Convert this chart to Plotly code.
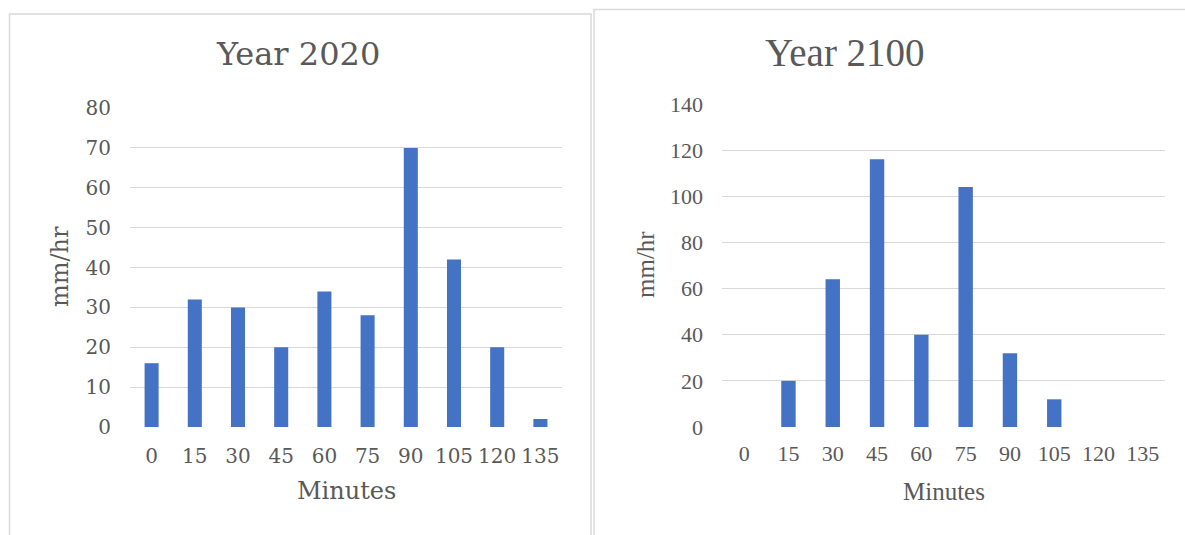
import plotly.graph_objects as go

W, H = 1185, 535

# Rainfall intensity per 15-minute step
minutes = ["0", "15", "30", "45", "60", "75", "90", "105", "120", "135"]
rain_2020 = [16, 32, 30, 20, 34, 28, 70, 42, 20, 2]
rain_2100 = [0, 20, 64, 116, 40, 104, 32, 12, 0, 0]
yticks_2020 = [0, 10, 20, 30, 40, 50, 60, 70, 80]
yticks_2100 = [0, 20, 40, 60, 80, 100, 120, 140]

BAR = "#4472C4"
GRID = "#D9D9D9"
TXT = "#595959"
LEFT_FONT = "DejaVu Serif"
RIGHT_FONT = "Liberation Serif"


def px(x):
    return x / W


def py(y):
    return 1 - y / H


fig = go.Figure()
fig.add_trace(go.Bar(x=minutes, y=rain_2020, marker_color=BAR,
                     marker_line_width=0, xaxis="x", yaxis="y"))
fig.add_trace(go.Bar(x=minutes, y=rain_2100, marker_color=BAR,
                     marker_line_width=0, xaxis="x2", yaxis="y2"))

common_x = dict(type="category", range=[-0.5, 9.5], showgrid=False,
                zeroline=False, showline=False, ticks="", fixedrange=True,
                automargin=False)
common_y = dict(showgrid=True, gridcolor=GRID, gridwidth=1.4, zeroline=False,
                showline=False, ticks="", fixedrange=True, automargin=False)

fig.update_layout(
    width=W, height=H,
    margin=dict(l=0, r=0, t=0, b=0),
    paper_bgcolor="white", plot_bgcolor="white",
    showlegend=False, bargap=0.675,
    xaxis=dict(**common_x, domain=[px(130), px(562)], anchor="y",
               tickfont=dict(family=LEFT_FONT, size=20, color=TXT),
               ticklabelstandoff=15),
    yaxis=dict(**common_y, domain=[py(427), py(108)], anchor="x",
               range=[0, 80], tickvals=yticks_2020,
               tickfont=dict(family=LEFT_FONT, size=20, color=TXT),
               ticklabelstandoff=18),
    xaxis2=dict(**common_x, domain=[px(722), px(1165)], anchor="y2",
                tickfont=dict(family=RIGHT_FONT, size=22, color=TXT),
                ticklabelstandoff=11),
    yaxis2=dict(**common_y, domain=[py(427), py(104)], anchor="x2",
                range=[0, 140], tickvals=yticks_2100,
                tickfont=dict(family=RIGHT_FONT, size=22, color=TXT),
                ticklabelstandoff=18),
)

# Panel frames
fig.add_shape(type="rect", xref="paper", yref="paper",
              x0=px(9.5), x1=px(591), y0=py(540), y1=py(14),
              line=dict(color=GRID, width=1.5), fillcolor="rgba(0,0,0,0)")
fig.add_shape(type="rect", xref="paper", yref="paper",
              x0=px(594), x1=px(1190), y0=py(540), y1=py(9.5),
              line=dict(color=GRID, width=1.5), fillcolor="rgba(0,0,0,0)")


def label(text, x, y, family, size, angle=0):
    fig.add_annotation(text=text, x=px(x), y=py(y), xref="paper", yref="paper",
                       showarrow=False, textangle=angle,
                       xanchor="center", yanchor="middle",
                       font=dict(family=family, size=size, color=TXT))


label("Year 2020", 298, 54, LEFT_FONT, 32)
label("Year 2100", 845, 53, RIGHT_FONT, 39)
label("Minutes", 346, 491, LEFT_FONT, 24)
label("Minutes", 944, 491, RIGHT_FONT, 25)
label("mm/hr", 60, 267, LEFT_FONT, 24, -90)
label("mm/hr", 646, 265, RIGHT_FONT, 25, -90)

fig.write_html("out.html")
